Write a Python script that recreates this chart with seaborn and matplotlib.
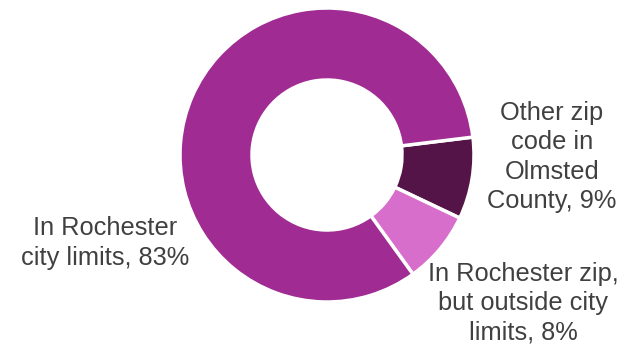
import matplotlib
matplotlib.use("Agg")
import matplotlib.pyplot as plt
import seaborn as sns

# Where respondents live
categories = [
    "Other zip\ncode in\nOlmsted\nCounty",
    "In Rochester zip,\nbut outside city\nlimits",
    "In Rochester\ncity limits",
]
shares = [9, 8, 83]
colors = ["#541448", "#D86ECC", "#A02B93"]

sns.set_theme(style="white")
plt.rcParams["font.family"] = ["Liberation Sans", "DejaVu Sans"]

W, H = 624, 349
fig = plt.figure(figsize=(W / 100, H / 100), dpi=100)
ax = fig.add_axes([0, 0, 1, 1])

cx, cy, r = 327, H - 155, 147
ax.pie(
    shares,
    colors=colors,
    startangle=7,
    counterclock=False,
    center=(cx, cy),
    radius=r,
    wedgeprops=dict(width=72, edgecolor="white", linewidth=2.5),
)
ax.set_xlim(0, W)
ax.set_ylim(0, H)
ax.set_aspect("equal")
ax.axis("off")

label_pos = [(552, H - 157), (523, H - 303), (105, H - 243)]
for name, val, (x, y) in zip(categories, shares, label_pos):
    ax.text(x, y, f"{name}, {val}%", ha="center", va="center",
            fontsize=18.3, color="#404040", linespacing=1.27)

fig.savefig("out.png", dpi=100)
